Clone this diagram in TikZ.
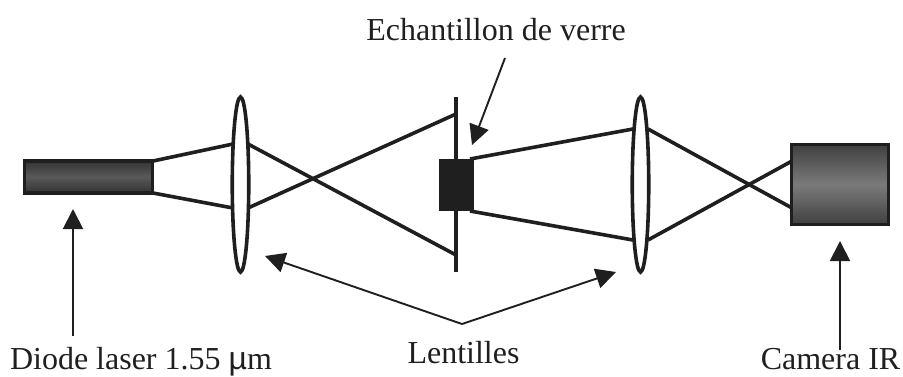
\documentclass[tikz,border=0pt]{standalone}
\usepackage{fontspec}
\setmainfont{Liberation Serif}
\newfontfamily\symfont{Liberation Sans}
\usetikzlibrary{arrows.meta,shapes.geometric}
\definecolor{ink}{HTML}{1F1F1F}
\tikzset{
  ray/.style={draw=ink,line width=3.6pt},
  lensbody/.style={ellipse,draw=ink,fill=white,line width=3.6pt,minimum width=16.5pt,minimum height=175pt,inner sep=0pt,outer sep=0pt},
  pointer/.style={draw=ink,line width=1.9pt,-{Triangle[length=20pt,width=20pt]}},
  lab/.style={font=\fontsize{32pt}{36pt}\selectfont,text=ink,inner sep=0pt,anchor=base},
  boxed/.style={draw=ink,line width=3.4pt,inner sep=0pt,outer sep=0pt,shade,shading angle=0}
}
\begin{document}
\begin{tikzpicture}[x=1pt,y=-1pt]
\useasboundingbox (0,0) rectangle (903,376);
% labels
\node[lab] (lE) at (496,40) {Echantillon de verre};
\node[lab] (lD) at (141,369.5) {Diode laser 1.55 {\symfont µ}m};
\node[lab] (lL) at (463.5,363) {Lentilles};
\node[lab] (lC) at (830.5,369.5) {Camera IR};
% free ends
\coordinate (dS) at (73,336);  \coordinate (dT) at (73,209);
\coordinate (cS) at (840,350); \coordinate (cT) at (840,241);
\coordinate (eS) at (505,58);  \coordinate (eT) at (472,145);
\coordinate (apex) at (462,324);
\coordinate (lT1) at (265,256); \coordinate (lT2) at (616,272);
% rays
\coordinate (a1) at (153,161); \coordinate (a2) at (153,193);
\coordinate (b1) at (233,144); \coordinate (b2) at (233,208);
\coordinate (c1) at (248,144); \coordinate (c2) at (248,208);
\coordinate (s1) at (456,114); \coordinate (s2) at (456,255);
\coordinate (g1) at (470,159); \coordinate (g2) at (470,211);
\coordinate (h1) at (633,129); \coordinate (h2) at (633,240);
\coordinate (i1) at (648,129); \coordinate (i2) at (648,240);
\coordinate (k1) at (792,161); \coordinate (k2) at (792,208);
\draw[ray] (a1) -- (b1);
\draw[ray] (a2) -- (b2);
\draw[ray] (c1) -- (s2);
\draw[ray] (c2) -- (s1);
\draw[ray] (g1) -- (h1);
\draw[ray] (g2) -- (h2);
\draw[ray] (i1) -- (k2);
\draw[ray] (i2) -- (k1);
% screen
\coordinate (scrT) at (456,97); \coordinate (scrB) at (456,272);
\draw[draw=ink,line width=3.4pt] (scrT) -- (scrB);
% lenses
\node[lensbody] (lens1) at (240.5,184.5) {};
\node[lensbody] (lens2) at (640.5,184.5) {};
% components
\node[draw=none,fill=ink,minimum width=35pt,minimum height=52pt,inner sep=0pt] (glass) at (456.5,185) {};
\node[boxed,top color=black!80,bottom color=black!80,middle color=black!65,minimum width=128pt,minimum height=32pt] (laser) at (88.5,176.8) {};
\node[boxed,top color=black!75,bottom color=black!75,middle color=black!52,minimum width=97pt,minimum height=80pt] (cam) at (840,184.5) {};
% pointers
\draw[pointer] (dS) -- (dT);
\draw[pointer] (cS) -- (cT);
\draw[pointer] (eS) -- (eT);
\draw[pointer] (apex) -- (lT1);
\draw[pointer] (apex) -- (lT2);
\end{tikzpicture}
\end{document}
